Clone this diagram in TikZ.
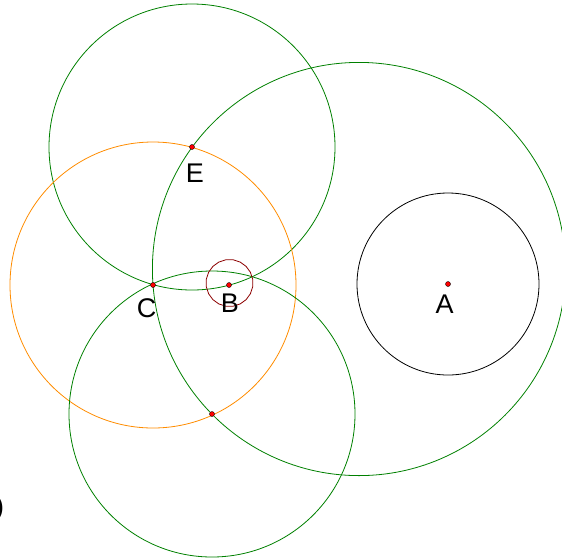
\documentclass[tikz,border=0pt]{standalone}
\usepackage{fontspec}
\setmainfont{Liberation Sans}
\usetikzlibrary{shapes.geometric}
\definecolor{cgreen}{RGB}{0,128,0}
\definecolor{corange}{RGB}{255,140,0}
\definecolor{cdarkred}{RGB}{140,0,0}

\begin{document}
\begin{tikzpicture}[x=1pt, y=-1pt, line width=0.8pt,
    pt/.style={draw, circle, fill=red, inner sep=0pt, minimum size=5pt, line width=0.4pt},
    lbl/.style={font=\fontsize{27}{27}\selectfont, inner sep=0pt}]
            \useasboundingbox (0,0) rectangle (562,558);
            \coordinate (A) at (448,284);
            \coordinate (B) at (229,285);
            \coordinate (C) at (153,285);
            \coordinate (E) at (192,147);
            \coordinate (D) at (212,414);
            \coordinate (O) at (359,269);

            % circles
            \draw (A) circle[radius=91pt];
            \draw[cgreen] (O) circle[radius=206.6pt];
            \draw[cgreen] (E) circle[radius=143pt];
            \draw[corange] (C) circle[radius=143pt];
            \draw[cgreen] (D) circle[radius=143pt];
            \node[draw=cdarkred, regular polygon, regular polygon sides=20, minimum size=47pt, inner sep=0pt] (Bring) at (229.5,283) {};

            % points
            \node[pt] (pA) at (A) {};
            \node[pt] (pB) at (B) {};
            \node[pt] (pC) at (C) {};
            \node[pt] (pE) at (E) {};
            \node[pt] (pD) at (D) {};

            \node[lbl] (lA) at (444.5,304.5) {A};
            \node[lbl] (lB) at (230,303.5) {B};
            \node[lbl] (lC) at (146.5,308.5) {C};
            \node[lbl] (lE) at (195,173) {E};
            \node[lbl, anchor=east] (lP) at (4.5,509) {)};
        \end{tikzpicture}
\end{document}
